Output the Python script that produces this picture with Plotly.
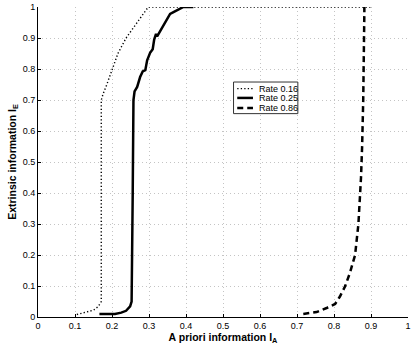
import plotly.graph_objects as go

# Rate 0.16 (dotted)
x016 = [0.105, 0.13, 0.15, 0.163, 0.171, 0.171, 0.176, 0.186, 0.2, 0.216, 0.238, 0.267, 0.298, 0.9]
y016 = [0.008, 0.015, 0.022, 0.034, 0.05, 0.7, 0.72, 0.75, 0.8, 0.85, 0.9, 0.95, 1.0, 1.0]

# Rate 0.25 (solid)
x025 = [0.166, 0.208, 0.225, 0.238, 0.249, 0.253, 0.256, 0.258, 0.261, 0.268, 0.276, 0.283, 0.29,
        0.295, 0.303, 0.31, 0.314, 0.319, 0.322, 0.33, 0.357, 0.37, 0.393, 0.42]
y025 = [0.01, 0.01, 0.014, 0.02, 0.034, 0.05, 0.4, 0.7, 0.728, 0.742, 0.774, 0.792, 0.796,
        0.828, 0.852, 0.864, 0.895, 0.913, 0.905, 0.921, 0.978, 0.986, 1.0, 1.0]

# Rate 0.86 (dashed)
x086 = [0.717, 0.753, 0.78, 0.803, 0.816, 0.830, 0.843, 0.857, 0.866, 0.870, 0.873, 0.876, 0.879, 0.882, 0.882]
y086 = [0.01, 0.016, 0.029, 0.042, 0.066, 0.099, 0.142, 0.2, 0.3, 0.378, 0.45, 0.55, 0.7, 0.98, 1.0]

series_names = ["Rate 0.16", "Rate 0.25", "Rate 0.86"]

tick_vals = [0, 0.1, 0.2, 0.3, 0.4, 0.5, 0.6, 0.7, 0.8, 0.9, 1]
tick_text = ["0", "0.1", "0.2", "0.3", "0.4", "0.5", "0.6", "0.7", "0.8", "0.9", "1"]

FONT = "Liberation Sans, Arial, Helvetica, sans-serif"
styles = [
    dict(color="black", width=1.4, dash="1.3px,2.2px"),
    dict(color="black", width=2.5),
    dict(color="black", width=2.5, dash="6px,4px"),
]

fig = go.Figure()
for xs, ys, nm, st in zip([x016, x025, x086], [y016, y025, y086], series_names, styles):
    fig.add_trace(go.Scatter(x=xs, y=ys, mode="lines", name=nm, line=st, showlegend=False))

axis_common = dict(
    range=[0, 1], tickvals=tick_vals, ticktext=tick_text,
    showgrid=True, gridcolor="#c4c4c4", griddash="1px,3px", gridwidth=1,
    showline=True, linecolor="black", linewidth=1,
    ticks="inside", ticklen=3, tickcolor="black",
    zeroline=False, mirror=False, automargin=False,
    tickfont=dict(family=FONT, size=9, color="black"),
)

fig.update_layout(
    width=415, height=348,
    margin=dict(l=37.5, r=7, t=7, b=30.7, autoexpand=False),
    paper_bgcolor="white", plot_bgcolor="white",
    font=dict(family=FONT, color="black"),
    showlegend=False,
)
fig.update_xaxes(**axis_common,
                 title=dict(text="<b>A priori information I<sub>A</sub></b>",
                            font=dict(family=FONT, size=10.5), standoff=2))
fig.update_yaxes(**axis_common,
                 title=dict(text="<b>Extrinsic information I<sub>E</sub></b>",
                            font=dict(family=FONT, size=10.5), standoff=4))

# Hand-drawn MATLAB-style compact legend box
box_x0, box_x1, box_y0, box_y1 = 0.5285, 0.7023, 0.656, 0.758
fig.add_shape(type="rect", xref="paper", yref="paper",
              x0=box_x0, x1=box_x1, y0=box_y0, y1=box_y1,
              line=dict(color="#333333", width=1), fillcolor="white", layer="above")
row_y = [0.7367, 0.7067, 0.6745]
for nm, st, ry in zip(series_names, styles, row_y):
    fig.add_shape(type="line", xref="paper", yref="paper",
                  x0=0.5385, x1=0.5810, y0=ry, y1=ry, line=st, layer="above")
    fig.add_annotation(xref="paper", yref="paper", x=0.5917, y=ry, text=nm,
                       showarrow=False, xanchor="left", yanchor="middle",
                       font=dict(family=FONT, size=9, color="black"))

fig.write_html("out.html", config={"displayModeBar": False},
               post_script="document.body.style.margin='0';document.body.style.padding='0';")
